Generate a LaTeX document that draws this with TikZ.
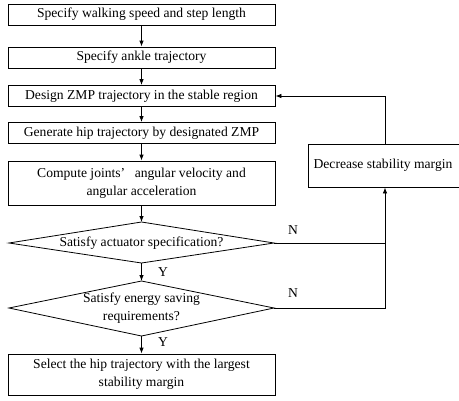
\documentclass[tikz,border=0pt]{standalone}
\usepackage{fontspec}
\setmainfont{Liberation Serif}
\usetikzlibrary{arrows.meta}
\begin{document}
\begin{tikzpicture}[x=1pt,y=-1pt,
  every node/.style={font=\fontsize{13.6}{18}\selectfont},
  box/.style={draw,line width=0.8pt,minimum width=267pt,align=center,inner sep=0pt},
  lab/.style={inner sep=0pt,align=center},
  flow/.style={-{Latex[length=6pt,width=4.5pt]},line width=0.8pt},
  plain/.style={line width=0.8pt}]
\useasboundingbox (0,0) rectangle (459,400);
\node[box,minimum height=21pt] (b1) at (141.5,14.5) {Specify walking speed and step length};
\node[box,minimum height=21pt] (b2) at (141.5,57.5) {Specify ankle trajectory};
\node[box,minimum height=21pt] (b3) at (141.5,96) {Design ZMP trajectory in the stable region};
\node[box,minimum height=21pt] (b4) at (141.5,133) {Generate hip trajectory by designated ZMP};
\node[box,minimum height=44pt] (b5) at (141.5,183) {Compute joints’\hspace{0.7em}angular velocity and\\angular acceleration};
\coordinate (d1l) at (9,243);
\coordinate (d1t) at (141.5,222);
\coordinate (d1r) at (274,243);
\coordinate (d1b) at (141.5,263);
\draw[plain] (d1l) -- (d1t) -- (d1r) -- (d1b) -- cycle;
\node[lab] (d1) at (141.5,243) {Satisfy actuator specification?};
\coordinate (d2l) at (9,308);
\coordinate (d2t) at (141.5,281);
\coordinate (d2r) at (274,308);
\coordinate (d2b) at (141.5,336);
\draw[plain] (d2l) -- (d2t) -- (d2r) -- (d2b) -- cycle;
\node[lab] (d2) at (141.5,308) {Satisfy energy saving\\requirements?};
\node[box,minimum height=41pt] (b6) at (141.5,374.5) {Select the hip trajectory with the largest\\stability margin};
\node[draw,line width=0.8pt,minimum width=154pt,minimum height=43pt,inner sep=0pt] (dec) at (385,165.5) {\hspace*{-1pt}Decrease stability margin\hspace*{3pt}};
\draw[flow] (b1) -- (b2);
\draw[flow] (b2) -- (b3);
\draw[flow] (b3) -- (b4);
\draw[flow] (b4) -- (b5);
\draw[flow] (b5) -- (d1t);
\draw[flow] (d1b) -- (d2t);
\draw[flow] (d2b) -- (b6);
\draw[plain] (d1r) -- (d1r -| dec.south);
\draw[flow] (d2r) -| (dec.south);
\draw[flow] (dec.north) |- (b3.east);
\node[lab] (n1) at (293,230) {N};
\node[lab] (n2) at (293,293) {N};
\node[lab] (y1) at (163,272) {Y};
\node[lab] (y2) at (163,342) {Y};
\end{tikzpicture}
\end{document}
